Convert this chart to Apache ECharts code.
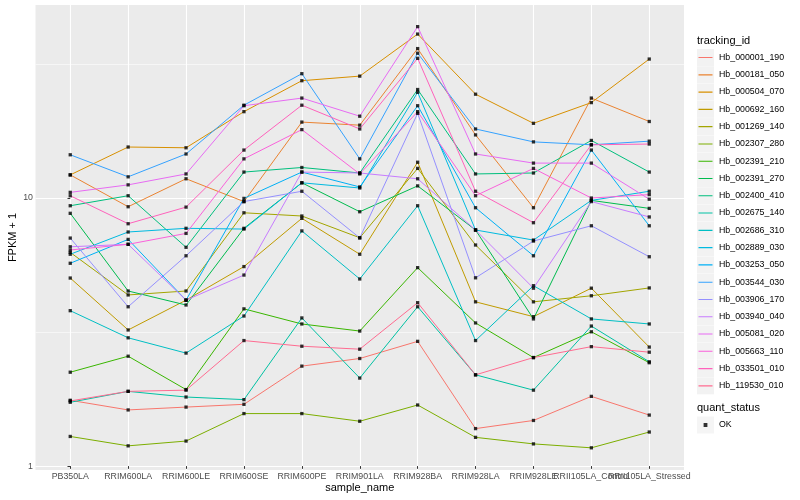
<!DOCTYPE html>
<html>
<head>
<meta charset="utf-8">
<script src="https://cdn.jsdelivr.net/npm/echarts@6/dist/echarts.min.js"></script>
<style>
html,body{margin:0;padding:0;background:#fff;}
#chart{width:800px;height:500px;}
</style>
</head>
<body>
<div id="chart"></div>
<script>
// ---------- data ----------
const categories = ['PB350LA','RRIM600LA','RRIM600LE','RRIM600SE','RRIM600PE','RRIM901LA','RRIM928BA','RRIM928LA','RRIM928LE','RRII105LA_Control','RRII105LA_Stressed'];
const trackingIds = ['Hb_000001_190','Hb_000181_050','Hb_000504_070','Hb_000692_160','Hb_001269_140','Hb_002307_280','Hb_002391_210','Hb_002391_270','Hb_002400_410','Hb_002675_140','Hb_002686_310','Hb_002889_030','Hb_003253_050','Hb_003544_030','Hb_003906_170','Hb_003940_040','Hb_005081_020','Hb_005663_110','Hb_033501_010','Hb_119530_010'];

const hb_000001_190 = [1.76, 1.62, 1.66, 1.70, 2.36, 2.52, 2.92, 1.38, 1.48, 1.82, 1.55];
const hb_000181_050 = [12.2, 9.28, 11.8, 9.7, 19.2, 18.7, 36.1, 17.2, 9.2, 23.6, 19.3];
const hb_000504_070 = [12.2, 15.5, 15.4, 21.0, 27.4, 28.5, 40.9, 24.4, 19.0, 22.7, 33.0];
const hb_000692_160 = [5.03, 3.22, 4.16, 5.55, 8.4, 6.17, 13.6, 4.10, 3.61, 4.61, 2.78];
const hb_001269_140 = [6.27, 4.35, 4.5, 8.81, 8.57, 7.11, 12.9, 6.68, 4.10, 4.32, 4.62];
const hb_002307_280 = [1.29, 1.19, 1.24, 1.57, 1.57, 1.47, 1.69, 1.28, 1.21, 1.17, 1.34];
const hb_002391_210 = [2.24, 2.57, 1.93, 3.86, 3.39, 3.19, 5.50, 3.42, 2.54, 3.17, 2.43];
const hb_002391_270 = [8.77, 4.5, 3.99, 7.71, 11.4, 8.89, 11.1, 7.6, 3.54, 9.8, 9.15];
const hb_002400_410 = [9.36, 10.2, 6.55, 12.5, 13.0, 12.4, 25.4, 12.3, 12.4, 16.4, 12.5];
const hb_002675_140 = [1.73, 1.90, 1.81, 1.77, 3.57, 2.13, 3.93, 2.19, 1.92, 3.33, 2.45];
const hb_002686_310 = [3.80, 3.01, 2.64, 3.63, 7.54, 4.99, 9.36, 2.94, 4.71, 3.54, 3.39];
const hb_002889_030 = [6.17, 7.47, 7.71, 7.66, 11.4, 10.9, 24.8, 7.6, 6.97, 9.8, 10.6];
const hb_003253_050 = [5.71, 7.01, 4.16, 9.97, 12.5, 11.0, 22.1, 9.2, 6.09, 15.1, 7.88];
const hb_003544_030 = [14.5, 12.0, 14.6, 22.2, 29.1, 14.0, 34.7, 18.1, 16.2, 15.8, 16.3];
const hb_003906_170 = [7.09, 3.93, 6.09, 9.7, 10.6, 7.1, 20.7, 5.04, 6.91, 7.88, 6.04];
const hb_003940_040 = [6.58, 6.72, 4.16, 5.16, 12.5, 12.4, 11.8, 7.6, 4.61, 9.7, 8.5];
const hb_005081_020 = [10.5, 11.2, 12.3, 22.1, 23.6, 20.2, 43.6, 14.6, 13.5, 13.5, 9.9];
const hb_005663_110 = [6.4, 6.72, 7.38, 14.0, 18.0, 12.3, 21.0, 10.2, 12.9, 10.0, 10.3];
const hb_033501_010 = [10.2, 8.02, 9.25, 15.1, 22.2, 18.1, 33.2, 10.6, 8.09, 15.8, 15.9];
const hb_119530_010 = [1.75, 1.90, 1.92, 2.94, 2.80, 2.73, 4.07, 2.19, 2.54, 2.79, 2.66];

const quantStatus = ['OK'];
const yMajorTicks = [1, 10];
const yMinorTicks = [3.1623, 31.623];
const yRange = [0.967, 52.5];

// ---------- styling ----------
const colors = ['#F8766D','#EA8331','#D89000','#C09B00','#A3A500','#7CAE00','#39B600','#00BB4E','#00BF7D','#00C1A3','#00BFC4','#00BAE0','#00B0F6','#35A2FF','#9590FF','#C77CFF','#E76BF3','#FA62DB','#FF62BC','#FF6C91'];
const allValues = [hb_000001_190,hb_000181_050,hb_000504_070,hb_000692_160,hb_001269_140,hb_002307_280,hb_002391_210,hb_002391_270,hb_002400_410,hb_002675_140,hb_002686_310,hb_002889_030,hb_003253_050,hb_003544_030,hb_003906_170,hb_003940_040,hb_005081_020,hb_005663_110,hb_033501_010,hb_119530_010];

const FONT = '"Liberation Sans", Arial, Helvetica, sans-serif';
const lg = Math.log10;
const catIdx = categories.map((c, i) => i);
const evenIdx = catIdx.filter(i => i % 2 === 0);
const oddIdx = catIdx.filter(i => i % 2 === 1);

const lineSeries = trackingIds.map((id, i) => ({
  type: 'line', name: id,
  data: allValues[i].map((v, j) => [j, lg(v)]),
  symbol: 'none', silent: true, z: 2,
  lineStyle: { color: colors[i], width: 1 },
  itemStyle: { color: colors[i] }
}));

const pts = [];
allValues.forEach(arr => arr.forEach((v, j) => pts.push([j, lg(v)])));
const pointSeries = {
  type: 'scatter', name: quantStatus[0], data: pts,
  symbol: 'rect', symbolSize: 3.3, silent: true, z: 5,
  itemStyle: { color: '#000000' }
};

const lineIcon = 'path://M0,0 L0.01,0 L0,0.01 Z M17,17 L16.99,17 L17,16.99 Z M1.5,8 L15.5,8 L15.5,9.1 L1.5,9.1 Z';
const sqIcon = 'path://M0,0 L0.01,0 L0,0.01 Z M17,17 L16.99,17 L17,16.99 Z M6.6,6.6 L10.4,6.6 L10.4,10.4 L6.6,10.4 Z';

const legendBase = {
  orient: 'vertical', left: 697, padding: 0, itemWidth: 17, itemHeight: 17,
  itemGap: 0.28, selectedMode: false,
  textStyle: { fontFamily: FONT, fontSize: 8.8, color: '#000000' }
};

const xLabelStyle = { hideOverlap: false, showMinLabel: true, showMaxLabel: true, formatter: v => categories[Math.round(v)], margin: 2.2, fontFamily: FONT, fontSize: 8.8, color: '#4D4D4D' };

const chart = echarts.init(document.getElementById('chart'), null, { renderer: 'canvas' });
chart.setOption({
  animation: false,
  backgroundColor: '#FFFFFF',
  grid: { left: 35.5, right: 116, top: 5, bottom: 30, show: true, backgroundColor: '#EBEBEB', borderWidth: 0, containLabel: false, outerBoundsMode: 'none' },
  xAxis: [{
    type: 'value', min: -0.6, max: 10.6, position: 'bottom',
    name: 'sample_name', nameLocation: 'middle', nameGap: 12.5, nameMoveOverlap: false,
    nameTextStyle: { fontFamily: FONT, fontSize: 11, color: '#000000' },
    axisLine: { show: false },
    axisTick: { show: true, length: 2.75, customValues: catIdx, lineStyle: { color: '#333333', width: 1 } },
    axisLabel: Object.assign({ customValues: evenIdx }, xLabelStyle),
    splitLine: { show: true, lineStyle: { color: '#FFFFFF', width: 1.1 } }
  }, {
    type: 'value', min: -0.6, max: 10.6, position: 'bottom', offset: 0,
    axisLine: { show: false },
    axisTick: { show: false, customValues: oddIdx },
    axisLabel: Object.assign({ customValues: oddIdx }, xLabelStyle),
    splitLine: { show: false }
  }],
  yAxis: [{
    type: 'value', min: lg(yRange[0]), max: lg(yRange[1]),
    name: 'FPKM + 1', nameLocation: 'middle', nameGap: 17, nameRotate: 90, nameMoveOverlap: false,
    nameTextStyle: { fontFamily: FONT, fontSize: 11, color: '#000000' },
    axisLine: { show: false },
    axisTick: { show: true, length: 2.75, customValues: yMajorTicks.map(lg), lineStyle: { color: '#333333', width: 1 } },
    axisLabel: { customValues: yMajorTicks.map(lg), hideOverlap: false, showMinLabel: true, showMaxLabel: true, formatter: v => String(Math.round(Math.pow(10, v))), margin: 2.5, fontFamily: FONT, fontSize: 8.8, color: '#4D4D4D' },
    splitLine: { show: true, lineStyle: { color: '#FFFFFF', width: 1.1 } }
  }, {
    type: 'value', min: lg(yRange[0]), max: lg(yRange[1]), position: 'left',
    axisLine: { show: false }, axisLabel: { show: false },
    axisTick: { show: false, customValues: yMinorTicks.map(lg) },
    splitLine: { show: true, lineStyle: { color: '#FFFFFF', width: 0.55 } }
  }],
  legend: [
    Object.assign({}, legendBase, { top: 49, z: 4, icon: 'rect', data: trackingIds.map(id => ({ name: id, itemStyle: { color: '#F2F2F2' } })), textStyle: { fontFamily: FONT, fontSize: 8.8, color: 'rgba(0,0,0,0)' } }),
    Object.assign({}, legendBase, { top: 49, z: 5, icon: lineIcon, data: trackingIds.map((id, i) => ({ name: id, itemStyle: { color: colors[i] } })) }),
    Object.assign({}, legendBase, { top: 416.5, z: 4, icon: 'rect', data: quantStatus.map(n => ({ name: n, itemStyle: { color: '#F2F2F2' } })), textStyle: { fontFamily: FONT, fontSize: 8.8, color: 'rgba(0,0,0,0)' } }),
    Object.assign({}, legendBase, { top: 416.5, z: 5, icon: sqIcon, data: quantStatus.map(n => ({ name: n, itemStyle: { color: '#000000' } })) })
  ],
  graphic: [
    { type: 'text', left: 697, top: 35, style: { text: 'tracking_id', font: '11px ' + FONT, fill: '#000000' } },
    { type: 'text', left: 697, top: 402, style: { text: 'quant_status', font: '11px ' + FONT, fill: '#000000' } }
  ],
  series: lineSeries.concat([pointSeries])
});
</script>
</body>
</html>
